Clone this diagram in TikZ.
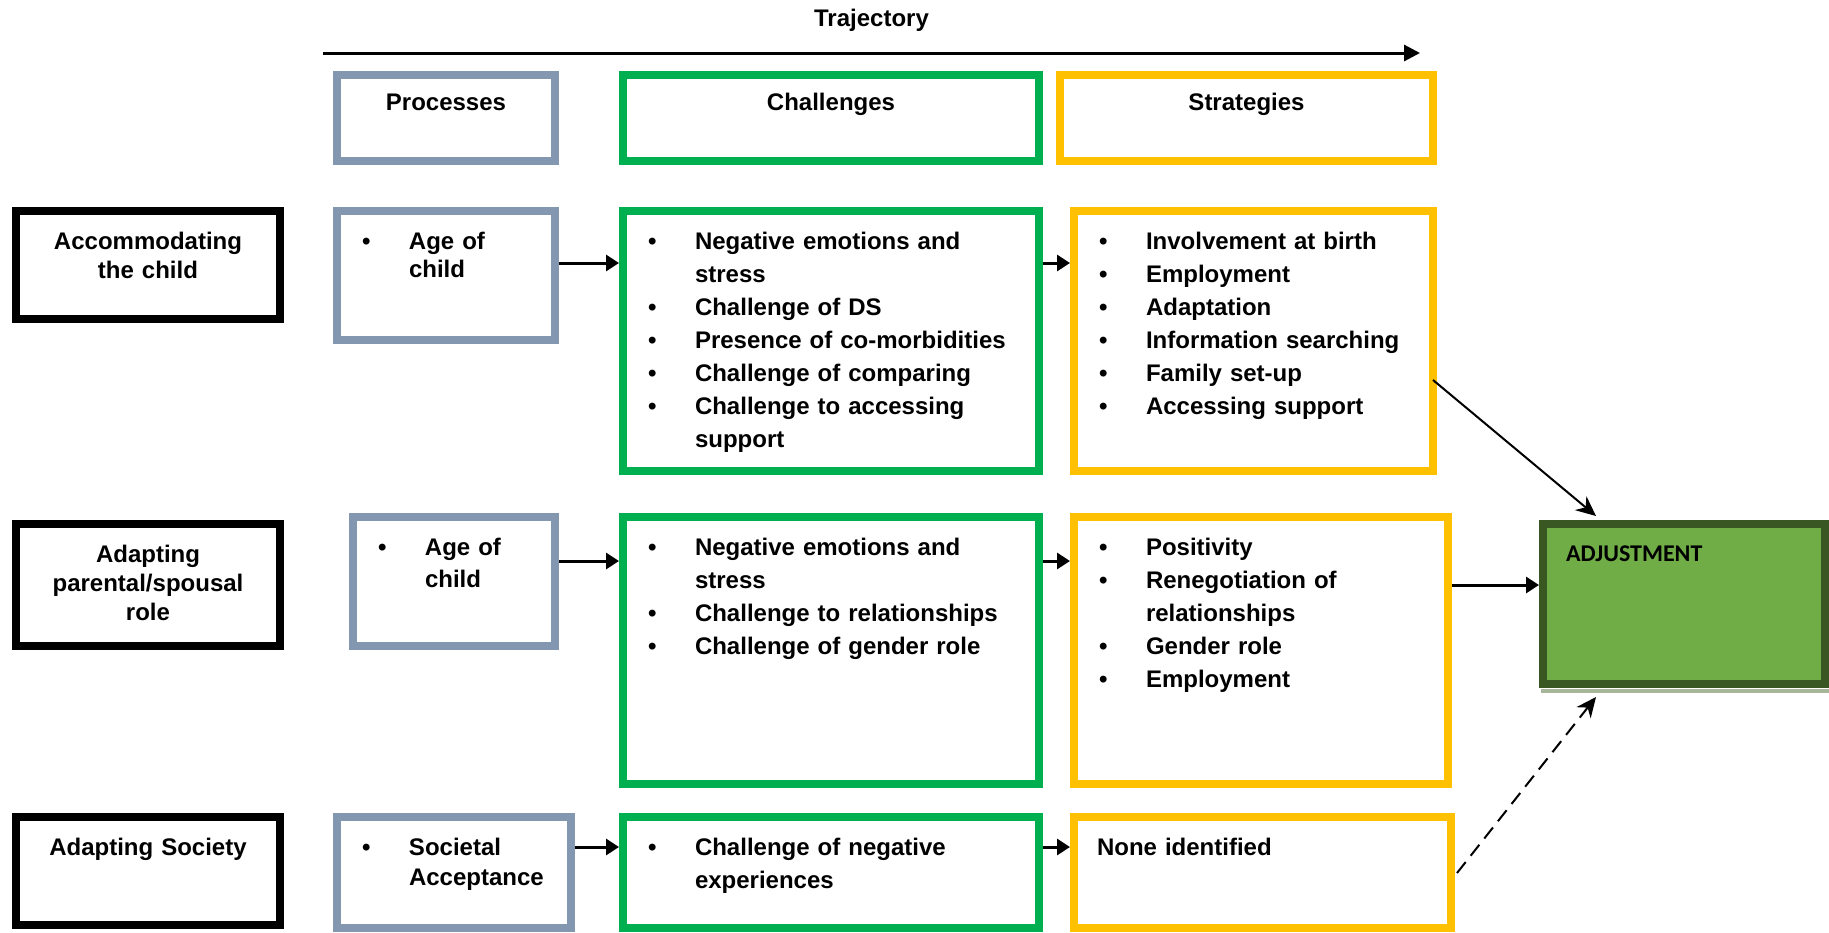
\documentclass[tikz,border=0pt]{standalone}
\usepackage{fontspec}
\setmainfont{Liberation Sans}
\newfontfamily\adjfont{Carlito}
\usetikzlibrary{arrows.meta,positioning}
\definecolor{procblue}{HTML}{8497B0}
\definecolor{chalgreen}{HTML}{00B050}
\definecolor{stratgold}{HTML}{FFC000}
\definecolor{adjfill}{HTML}{70AD47}
\definecolor{adjline}{HTML}{385723}
\definecolor{adjshade}{HTML}{A7B598}
\hyphenpenalty=10000
\exhyphenpenalty=10000
% one bulleted line, wrapped lines hang under the text
\newcommand{\bitem}[1]{\hangindent=24.5pt\hangafter=1\makebox[24.5pt][l]{\hspace{1pt}\textbullet}#1\par}

\begin{document}
\begin{tikzpicture}[x=1pt,y=-1pt,
 every node/.style={font=\fontsize{12pt}{16.5pt}\selectfont\bfseries},
 panel/.style={draw,line width=4pt,inner xsep=11.5pt,inner ysep=6pt,
  text height=13.2pt,align=left},
 heading/.style={align=center,text height=11.7pt,text depth=19.3pt},
 stage/.style={panel,align=center,font=\fontsize{12pt}{14.5pt}\selectfont\bfseries},
 proc/.style={panel,draw=procblue,font=\fontsize{12pt}{15pt}\selectfont\bfseries},
 chal/.style={panel,draw=chalgreen},
 strat/.style={panel,draw=stratgold},
 outcome/.style={panel,draw=adjline,fill=adjfill,
  font=\adjfont\fontsize{12pt}{14pt}\selectfont\bfseries},
 flow/.style={-{Triangle[length=6.5pt,width=8pt]},line width=1.5pt},
 link/.style={-{Stealth[length=10pt,width=9pt]},line width=1pt}]
\useasboundingbox (0,0) rectangle (914.5,466);

% column headings
\node[proc,heading,text width=86pt,anchor=north west]
 (hproc) at (166.5,35.5) {Processes};
\node[chal,heading,text width=185pt,
 right=30pt of hproc.north east,anchor=north west] (hchal) {Challenges};
\node[strat,heading,text width=163.5pt,
 right=6.5pt of hchal.north east,anchor=north west] (hstrat) {Strategies};

\coordinate (trajstart) at (161.5,26.5);
\coordinate (trajend) at (710,26.5);
\draw[flow,-{Triangle[length=8pt,width=8pt]}] (trajstart)
 -- node[above=6.5pt]{Trajectory} (trajend);

% first row
\node[proc,text width=86pt,text depth=39.3pt,font=\fontsize{12pt}{14pt}\selectfont\bfseries,
 below=21pt of hproc.south west,anchor=north west] (proc1) {\bitem{Age of child}};
\node[stage,text width=109pt,text depth=28.8pt,
 left=24.5pt of proc1.north west,anchor=north east] (stage1) {Accommodating the child};
\node[chal,text width=185pt,text depth=104.8pt,
 right=30pt of proc1.north east,anchor=north west] (chal1) {%
 \bitem{Negative emotions and stress}
 \bitem{Challenge of DS}
 \bitem{Presence of co-morbidities}
 \bitem{Challenge of comparing}
 \bitem{Challenge to accessing support}};
\node[strat,text width=156.5pt,text depth=104.8pt,
 right=13.5pt of chal1.north east,anchor=north west] (strat1) {%
 \bitem{Involvement at birth}
 \bitem{Employment}
 \bitem{Adaptation}
 \bitem{Information searching}
 \bitem{Family set-up}
 \bitem{Accessing support}};

% second row
\node[chal,text width=185pt,text depth=108.3pt,
 below=19pt of chal1.south west,anchor=north west] (chal2) {%
 \bitem{Negative emotions and stress}
 \bitem{Challenge to relationships}
 \bitem{Challenge of gender role}};
\node[proc,text width=78pt,text depth=39.3pt,font=\fontsize{12pt}{16pt}\selectfont\bfseries,
 left=30pt of chal2.north west,anchor=north east] (proc2) {\bitem{Age of child}};
\node[stage,text width=109pt,text depth=35.8pt,
 below=98.5pt of stage1.south west,anchor=north west] (stage2) {Adapting parental/spousal role};
\node[strat,text width=164pt,text depth=108.3pt,
 right=13.5pt of chal2.north east,anchor=north west] (strat2) {%
 \bitem{Positivity}
 \bitem{Renegotiation of relationships}
 \bitem{Gender role}
 \bitem{Employment}};
\node[outcome,text width=118pt,text depth=55.3pt,text height=12.7pt,
 below right=3.5pt and 43.5pt of strat2.north east,anchor=north west] (adj) {ADJUSTMENT};
\fill[adjshade] ([xshift=1pt,yshift=-0.5pt]adj.south west)
 rectangle ([yshift=-2.5pt]adj.south east);

% third row
\node[chal,text width=185pt,text depth=30.3pt,
 below=12.5pt of chal2.south west,anchor=north west] (chal3) {%
 \bitem{Challenge of negative experiences}};
\node[proc,text width=94pt,text depth=30.3pt,
 left=22pt of chal3.north west,anchor=north east] (proc3) {\bitem{Societal Acceptance}};
\node[stage,text width=109pt,text depth=28.8pt,
 below=81.5pt of stage2.south west,anchor=north west] (stage3) {Adapting Society};
\node[strat,text width=165.5pt,text depth=30.3pt,
 right=13.5pt of chal3.north east,anchor=north west] (strat3) {None identified};

% connectors
\draw[flow] ([yshift=-28pt]proc1.north east) -- ([yshift=-28pt]chal1.north west);
\draw[flow] ([yshift=-28pt]chal1.north east) -- ([yshift=-28pt]strat1.north west);
\draw[flow] ([yshift=-24pt]proc2.north east) -- ([yshift=-24pt]chal2.north west);
\draw[flow] ([yshift=-24pt]chal2.north east) -- ([yshift=-24pt]strat2.north west);
\draw[flow] ([yshift=-17pt]proc3.north east) -- ([yshift=-17pt]chal3.north west);
\draw[flow] ([yshift=-17pt]chal3.north east) -- ([yshift=-17pt]strat3.north west);
\draw[flow] ([yshift=-36pt]strat2.north east) -- ([yshift=-36pt]strat2.north east -| adj.west);
\draw[link] ([xshift=-2pt,yshift=-86.5pt]strat1.north east)
 -- ([xshift=28.5pt,yshift=2pt]adj.north west);
\draw[link,dash pattern=on 7pt off 4pt] ([xshift=1pt,yshift=-30pt]strat3.north east)
 -- ([xshift=28.5pt,yshift=-4.5pt]adj.south west);
\end{tikzpicture}
\end{document}
